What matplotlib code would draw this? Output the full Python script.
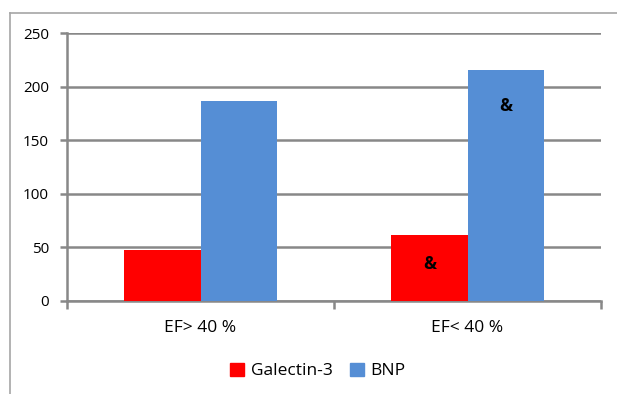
import numpy as np
import matplotlib
matplotlib.use("Agg")
import matplotlib.pyplot as plt
from matplotlib.patches import Patch
from matplotlib.lines import Line2D

# data
categories = ["EF> 40 %", "EF< 40 %"]
galectin = [47, 61]
bnp = [187, 216]
galectin_marks = ["", "&"]
bnp_marks = ["", "&"]

RED = "#FF0000"
BLUE = "#558ED5"
GRID = "#888888"

plt.rcParams["font.family"] = ["Open Sans", "DejaVu Sans"]

W, H = 617, 394
fig = plt.figure(figsize=(W / 100, H / 100), dpi=100)

# chart-area border (only left and top visible in the reference)
fig.add_artist(Line2D([10 / W, 10 / W], [0, 1 - 13 / H], color="#A6A6A6", lw=1.2))
fig.add_artist(Line2D([10 / W, 1], [1 - 13 / H, 1 - 13 / H], color="#A6A6A6", lw=1.2))

ax = fig.add_axes([67 / W, 1 - 300.7 / H, (601 - 67) / W, (300.7 - 33.3) / H])

x = np.arange(len(categories))
w = 0.285
b1 = ax.bar(x - w / 2, galectin, w, color=RED, label="Galectin-3", zorder=3)
b2 = ax.bar(x + w / 2, bnp, w, color=BLUE, label="BNP", zorder=3)

for rect, m in zip(b1, galectin_marks):
    if m:
        ax.text(rect.get_x() + rect.get_width() / 2, 34, m,
                ha="center", va="center", fontsize=12.5, fontweight="bold", zorder=4)
for rect, m in zip(b2, bnp_marks):
    if m:
        ax.text(rect.get_x() + rect.get_width() / 2, rect.get_height() - 34, m,
                ha="center", va="center", fontsize=12.5, fontweight="bold", zorder=4)

ax.set_xlim(-0.5, 1.5)
ax.set_ylim(0, 250)
ax.set_yticks(np.arange(0, 251, 50))
ax.yaxis.grid(True, color=GRID, lw=1.8, zorder=0)
ax.set_axisbelow(True)

ax.set_xticks([-0.5, 0.5, 1.5])
ax.set_xticklabels([])
ax.set_xticks(x, minor=True)
ax.set_xticklabels(categories, minor=True, fontsize=12.5)
ax.tick_params(axis="x", which="major", length=6, width=1.8, color=GRID)
ax.tick_params(axis="x", which="minor", length=0, pad=14)
ax.tick_params(axis="y", length=5, width=1.8, color=GRID, pad=8, labelsize=11)

for s in ["top", "right"]:
    ax.spines[s].set_visible(False)
for s in ["left", "bottom"]:
    ax.spines[s].set_color(GRID)
    ax.spines[s].set_linewidth(1.8)

handles = [Patch(color=RED), Patch(color=BLUE)]
fig.legend(handles, ["Galectin-3", "BNP"], loc="center", bbox_to_anchor=(0.515, 1 - 371 / H),
           ncol=2, frameon=False, fontsize=12.5, handlelength=0.8, handleheight=0.8,
           handletextpad=0.4, columnspacing=1.0)

fig.savefig("out.png", dpi=100)
